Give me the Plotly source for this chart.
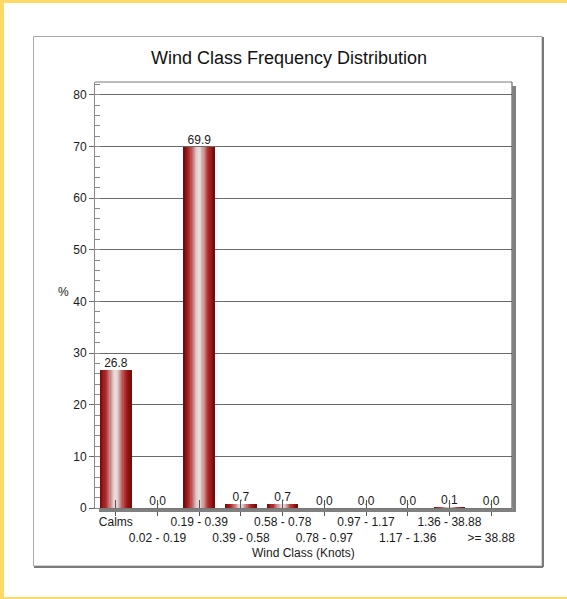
import plotly.graph_objects as go

# ---- data ----
categories = ["Calms", "0.02 - 0.19", "0.19 - 0.39", "0.39 - 0.58", "0.58 - 0.78",
              "0.78 - 0.97", "0.97 - 1.17", "1.17 - 1.36", "1.36 - 38.88", ">= 38.88"]
values = [26.8, 0.0, 69.9, 0.7, 0.7, 0.0, 0.0, 0.0, 0.1, 0.0]
y_ticks = [0, 10, 20, 30, 40, 50, 60, 70, 80]
title_text = "Wind Class Frequency Distribution"
x_title = "Wind Class (Knots)"
y_title = "%"

# ---- layout geometry (pixels) ----
W, H = 567, 599
L, R, T, B = 95, 512, 82, 508
PW, PH = R - L, B - T


def px(x):
    return (x - L) / PW


def py(y):
    return (B - y) / PH


FONT = "Arial, 'Liberation Sans', sans-serif"

# staggered tick text: odd categories on a second line
tick_text = [c if i % 2 == 0 else " <br>" + c for i, c in enumerate(categories)]

fig = go.Figure()

# cylinder-like gradient bars made of thin overlaid slices
N = 26
BW = 0.74
stops = [(0.0, (232, 226, 226)), (0.12, (225, 205, 205)), (0.32, (205, 140, 140)),
         (0.58, (178, 52, 52)), (0.82, (148, 20, 20)), (1.0, (112, 8, 8))]


def grad(d):
    for (a, ca), (b, cb) in zip(stops[:-1], stops[1:]):
        if a <= d <= b:
            f = (d - a) / (b - a)
            return "rgb(%d,%d,%d)" % tuple(round(ca[i] + (cb[i] - ca[i]) * f) for i in range(3))
    return "rgb(%d,%d,%d)" % stops[-1][1]


for k in range(N):
    t = (k + 0.5) / N
    d = abs(2 * t - 1)
    fig.add_trace(go.Bar(
        x=categories, y=values,
        width=BW / N * 1.04, offset=-BW / 2 + k * BW / N,
        marker=dict(color=grad(d), line=dict(width=0)),
        hoverinfo="skip", showlegend=False,
    ))

# value labels (on overlay axis x2, which draws the inner tick halves)
fig.add_trace(go.Scatter(
    x=categories, y=values, mode="text",
    text=["%.1f" % v for v in values], textposition="top center",
    textfont=dict(family=FONT, size=12, color="#1a1a1a"),
    hoverinfo="skip", showlegend=False, xaxis="x2", cliponaxis=False,
))
# invisible helper on x3 (draws the outer tick halves)
fig.add_trace(go.Scatter(
    x=categories, y=values, mode="markers", marker=dict(opacity=0),
    hoverinfo="skip", showlegend=False, xaxis="x3",
))

cat_axis = dict(type="category", categoryorder="array", categoryarray=categories,
                range=[-0.5, len(categories) - 0.5], tickvals=categories,
                showgrid=False, zeroline=False)

fig.update_layout(
    width=W, height=H,
    margin=dict(l=L, r=W - R, t=T, b=H - B, pad=0),
    paper_bgcolor="white", plot_bgcolor="white",
    barmode="overlay", bargap=0,
    font=dict(family=FONT, size=12, color="#1a1a1a"),
    xaxis=dict(
        **cat_axis,
        ticktext=tick_text, tickangle=0,
        ticks="outside", ticklen=3, tickcolor="rgba(0,0,0,0)", tickwidth=1,
        showline=True, linecolor="#6e6e6e", linewidth=1,
        tickfont=dict(family=FONT, size=12, color="#1a1a1a"),
    ),
    xaxis2=dict(
        **cat_axis, overlaying="x", side="bottom", showticklabels=False,
        ticks="inside", ticklen=8, tickcolor="#555555", tickwidth=1, showline=False,
    ),
    xaxis3=dict(
        **cat_axis, overlaying="x", side="bottom", showticklabels=False,
        ticks="outside", ticklen=7, tickcolor="#555555", tickwidth=1, showline=False,
    ),
    yaxis=dict(
        range=[0, 82.5], tickvals=y_ticks,
        ticks="outside", ticklen=5, tickcolor="#6a6a6a", tickwidth=1,
        showgrid=True, gridcolor="#6a6a6a", gridwidth=1,
        showline=True, linecolor="#8a8a8a", linewidth=1,
        zeroline=False,
        minor=dict(dtick=2, tick0=0, ticks="inside", ticklen=5,
                   tickcolor="#8a8a8a", tickwidth=1, showgrid=False),
        tickfont=dict(family=FONT, size=12, color="#1a1a1a"),
    ),
)

shapes = []
yellow = "#FFD966"
# yellow frame
shapes.append(dict(type="rect", xref="paper", yref="paper", x0=px(0), x1=px(W), y0=py(3), y1=py(-2),
                   fillcolor=yellow, line=dict(width=0)))
shapes.append(dict(type="rect", xref="paper", yref="paper", x0=px(-2), x1=px(4), y0=py(H + 2), y1=py(-2),
                   fillcolor=yellow, line=dict(width=0)))
shapes.append(dict(type="rect", xref="paper", yref="paper", x0=px(0), x1=px(W), y0=py(H + 2), y1=py(597),
                   fillcolor=yellow, line=dict(width=0)))
# outer chart box
shapes.append(dict(type="rect", xref="paper", yref="paper", x0=px(33.5), x1=px(542), y0=py(566), y1=py(36.5),
                   fillcolor="rgba(0,0,0,0)", line=dict(color="#a8a8a8", width=1)))
shapes.append(dict(type="line", xref="paper", yref="paper", x0=px(34), x1=px(543), y0=py(567), y1=py(567),
                   line=dict(color="#7a7a7a", width=2)))
shapes.append(dict(type="line", xref="paper", yref="paper", x0=px(543), x1=px(543), y0=py(567), y1=py(37),
                   line=dict(color="#7a7a7a", width=2)))
# plot area shadow
shapes.append(dict(type="rect", xref="paper", yref="paper", x0=px(512.5), x1=px(516), y0=py(512), y1=py(86),
                   fillcolor="#808080", line=dict(width=0)))
shapes.append(dict(type="rect", xref="paper", yref="paper", x0=px(99), x1=px(516), y0=py(512), y1=py(508.5),
                   fillcolor="#808080", line=dict(width=0)))
# plot border (top / right)
shapes.append(dict(type="line", xref="paper", yref="paper", x0=0, x1=1, y0=1, y1=1,
                   line=dict(color="#7a7a7a", width=1)))
shapes.append(dict(type="line", xref="paper", yref="paper", x0=1, x1=1, y0=0, y1=1,
                   line=dict(color="#4a4a4a", width=1)))
fig.update_layout(shapes=shapes)

annotations = [
    dict(text=title_text, xref="paper", yref="paper", x=px(289), y=py(58),
         xanchor="center", yanchor="middle", showarrow=False,
         font=dict(family=FONT, size=18, color="#111111")),
    dict(text=x_title, xref="paper", yref="paper", x=0.5, y=py(553),
         xanchor="center", yanchor="middle", showarrow=False,
         font=dict(family=FONT, size=12, color="#1a1a1a")),
    dict(text=y_title, xref="paper", yref="paper", x=px(63), y=py(292),
         xanchor="center", yanchor="middle", showarrow=False,
         font=dict(family=FONT, size=12, color="#1a1a1a")),
]
fig.update_layout(annotations=annotations)

fig.write_html(
    "out.html",
    config={"displayModeBar": False},
    post_script="document.body.style.margin='0';document.body.style.overflow='hidden';",
)
